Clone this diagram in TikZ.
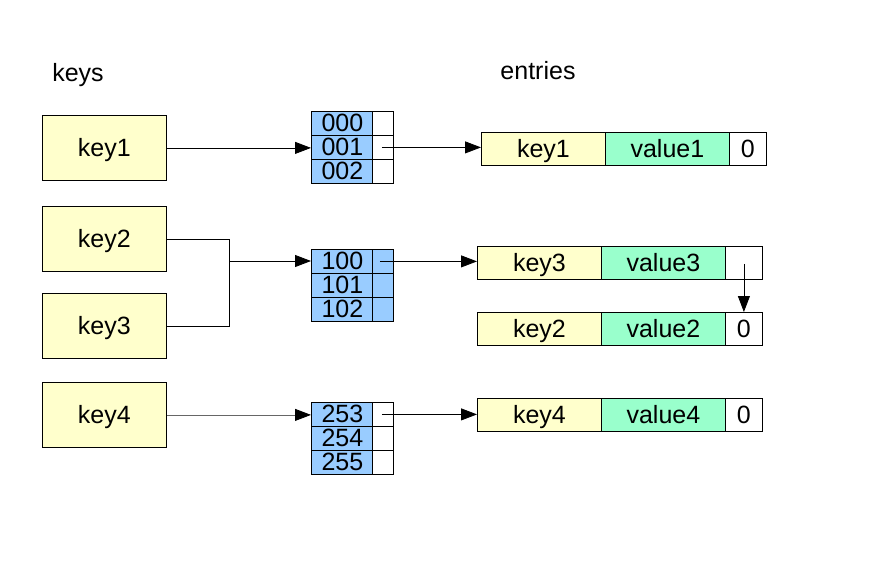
\documentclass[tikz,border=0pt]{standalone}
\usepackage{fontspec}
\setmainfont{Liberation Sans}
\usetikzlibrary{arrows.meta}
\definecolor{keyfill}{HTML}{FFFFCC}
\definecolor{slotfill}{HTML}{99CCFF}
\definecolor{valfill}{HTML}{99FFCC}
\tikzset{
  txt/.style={font=\fontsize{25}{26}\selectfont, text=black},
  cell/.style={txt, draw=black, line width=0.8pt, inner sep=0pt, anchor=north west,
    text height=18pt, text depth=1.5pt},
  keybox/.style={cell, fill=keyfill, minimum width=124pt, minimum height=65pt},
  slot/.style={cell, fill=slotfill, minimum width=62pt, minimum height=24pt},
  link/.style={cell, fill=white, minimum width=21pt, minimum height=24pt},
  ekey/.style={cell, fill=keyfill, minimum width=124pt, minimum height=33pt},
  eval/.style={cell, fill=valfill, minimum width=124pt, minimum height=33pt},
  enext/.style={cell, fill=white, minimum width=37pt, minimum height=33pt},
  arrow/.style={line width=0.8pt, -{Triangle[length=16pt,width=12pt,color=black]}},
  line/.style={line width=0.8pt}
}
\begin{document}
\begin{tikzpicture}[x=1pt,y=-1pt]
\useasboundingbox (0,0) rectangle (869,567);

% headings
\node[txt] (hkeys) at (78,75) {keys};
\node[txt] (hentries) at (538,71) {entries};

% key boxes
\node[keybox] (k1) at (42,115) {key1};
\node[keybox] (k2) at (42,206) {key2};
\node[keybox] (k3) at (42,293) {key3};
\node[keybox] (k4) at (42,382) {key4};

% bucket table, group 0xx
\node[slot] (b000) at (311,111) {000};
\node[link] (l000) at (372,111) {};
\node[slot] (b001) at (311,135) {001};
\node[link] (l001) at (372,135) {};
\node[slot] (b002) at (311,159) {002};
\node[link] (l002) at (372,159) {};

% bucket table, group 1xx
\node[slot] (b100) at (311,249) {100};
\node[link, fill=slotfill] (l100) at (372,249) {};
\node[slot] (b101) at (311,273) {101};
\node[link, fill=slotfill] (l101) at (372,273) {};
\node[slot] (b102) at (311,297) {102};
\node[link, fill=slotfill] (l102) at (372,297) {};

% bucket table, group 25x
\node[slot] (b253) at (311,402) {253};
\node[link] (l253) at (372,402) {};
\node[slot] (b254) at (311,426) {254};
\node[link] (l254) at (372,426) {};
\node[slot] (b255) at (311,450) {255};
\node[link] (l255) at (372,450) {};

% entries
\node[ekey] (e1k) at (481,132) {key1};
\node[eval] (e1v) at (605,132) {value1};
\node[enext] (e1n) at (729,132) {0};

\node[ekey] (e3k) at (477,246) {key3};
\node[eval] (e3v) at (601,246) {value3};
\node[enext] (e3n) at (725,246) {};

\node[ekey] (e2k) at (477,312) {key2};
\node[eval] (e2v) at (601,312) {value2};
\node[enext] (e2n) at (725,312) {0};

\node[ekey] (e4k) at (477,398) {key4};
\node[eval] (e4v) at (601,398) {value4};
\node[enext] (e4n) at (725,398) {0};

% keys to buckets
\draw[arrow] (k1.east) -- (k1.east -| b001.west);
\coordinate (join) at (229,261);
\draw[line] (k2.east) -| (join);
\draw[line] (k3.east) -| (join);
\draw[arrow] (join) -- (join -| b100.west);
\draw[arrow, draw=black!60] (k4.east) -- (k4.east -| b253.west);

% buckets to entries
\draw[arrow] ([xshift=-1pt]l001.center) -- (l001.center -| e1k.west);
\draw[arrow] ([xshift=-3pt]l100.center) -- (l100.center -| e3k.west);
\draw[arrow] ([xshift=-1pt]l253.center) -- (l253.center -| e4k.west);

% chain to next entry
\draw[arrow] ([yshift=-1pt]e3n.center) -- (e2n.north);
\end{tikzpicture}
\end{document}
